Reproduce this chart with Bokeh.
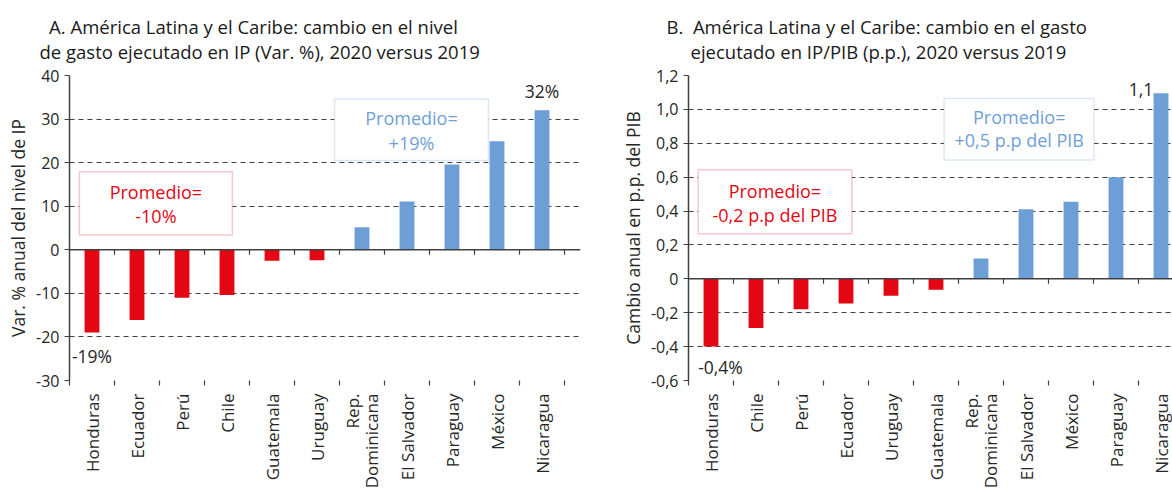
import numpy as np
from bokeh.plotting import figure
from bokeh.layouts import row
from bokeh.models import FixedTicker, Range1d, BoxAnnotation, Label, Span
from bokeh.embed import file_html
from bokeh.resources import INLINE

# ---------------- data ----------------
# Panel A: change in executed public investment spending level (Var. %)
cats_a = ["Honduras", "Ecuador", "Perú", "Chile", "Guatemala", "Uruguay",
          "Rep.\nDominicana", "El Salvador", "Paraguay", "México", "Nicaragua"]
vals_a = [-19.0, -16.1, -11.0, -10.4, -2.5, -2.4, 5.2, 11.1, 19.6, 24.9, 32.0]
yticks_a = [-30, -20, -10, 0, 10, 20, 30, 40]
ytick_labels_a = ["-30", "-20", "-10", "0", "10", "20", "30", "40"]
avg_a = ["Promedio=", "-10%"]
avg_pos_a = ["Promedio=", "+19%"]

# Panel B: change in executed public investment / GDP (p.p.)
cats_b = ["Honduras", "Chile", "Perú", "Ecuador", "Uruguay", "Guatemala",
          "Rep.\nDominicana", "El Salvador", "México", "Paraguay", "Nicaragua"]
vals_b = [-0.40, -0.29, -0.18, -0.145, -0.10, -0.065, 0.12, 0.41, 0.455, 0.60, 1.095]
yticks_b = [-0.6, -0.4, -0.2, 0, 0.2, 0.4, 0.6, 0.8, 1.0, 1.2]
ytick_labels_b = ["-0,6", "-0,4", "-0,2", "0", "0,2", "0,4", "0,6", "0,8", "1,0", "1,2"]
avg_b = ["Promedio=", "-0,2 p.p del PIB"]
avg_pos_b = ["Promedio=", "+0,5 p.p del PIB"]

# ---------------- style ----------------
RED = "#E30613"
BLUE = "#6D9ED5"
RED_BORDER = "#E84A55"
BLUE_BORDER = "#8FB4E0"
BLUE_TEXT = "#6F9FD8"
DARK = "#404040"
TXT = "#262626"
FONT = "Open Sans"
H = 491
TOP = 75
BOTTOM = 111
TICK_PX = 5
CAT_PX = 45.0
NB = "\u00a0"


def make_panel(cats, vals, yticks, ylabels, yr, width, bl, br, n_vis, title, title_off, ylab):
    n = len(cats)
    x = list(range(n))
    colors = [RED if v < 0 else BLUE for v in vals]
    p = figure(width=width, height=H, output_backend="svg", toolbar_location=None,
               x_range=Range1d(-0.5, -0.5 + n_vis), y_range=Range1d(*yr),
               min_border_left=bl, min_border_right=br, min_border_top=TOP,
               min_border_bottom=BOTTOM)
    p.outline_line_color = None
    p.background_fill_color = "white"
    p.border_fill_color = "white"

    # title
    p.title.text = title
    p.title.align = "left"
    p.title.offset = title_off
    p.title.text_font = FONT
    p.title.text_font_size = "18.5px"
    p.title.text_font_style = "normal"
    p.title.text_color = "#1A1A1A"
    p.title.standoff = 23

    # grid
    p.xgrid.visible = False
    p.ygrid.ticker = FixedTicker(ticks=yticks)
    p.ygrid.grid_line_color = DARK
    p.ygrid.grid_line_dash = "5 4"
    p.ygrid.grid_line_width = 1

    # y axis
    ya = p.yaxis[0]
    ya.ticker = FixedTicker(ticks=yticks)
    ya.major_label_overrides = {t: l for t, l in zip(yticks, ylabels)}
    ya.axis_line_color = DARK
    ya.axis_line_width = 1.5
    ya.major_tick_line_color = DARK
    ya.major_tick_line_width = 1.2
    ya.major_tick_out = TICK_PX
    ya.major_tick_in = 0
    ya.minor_tick_line_color = None
    ya.major_label_standoff = 5
    ya.major_label_text_font = FONT
    ya.major_label_text_font_size = "16px"
    ya.major_label_text_color = TXT
    ya.axis_label = ylab
    ya.axis_label_text_font = FONT
    ya.axis_label_text_font_size = "17.5px"
    ya.axis_label_text_font_style = "normal"
    ya.axis_label_text_color = TXT
    ya.axis_label_standoff = 3

    # x axis: category labels at the bottom, boundary ticks
    bounds = [i - 0.5 for i in range(n + 1)]
    xa = p.xaxis[0]
    xa.ticker = FixedTicker(ticks=x, minor_ticks=bounds)
    xa.major_label_overrides = {i: c for i, c in zip(x, cats)}
    xa.major_label_orientation = np.pi / 2
    xa.axis_line_color = None
    xa.major_tick_line_color = None
    xa.major_tick_out = 0
    xa.major_tick_in = 0
    xa.minor_tick_line_color = DARK
    xa.minor_tick_line_width = 1.2
    xa.minor_tick_out = TICK_PX
    xa.minor_tick_in = 0
    xa.major_label_standoff = 8
    xa.major_label_text_font = FONT
    xa.major_label_text_font_size = "17px"
    xa.major_label_text_color = TXT
    xa.major_label_text_line_height = 0.85

    # bars
    p.vbar(x=x, top=vals, bottom=0, width=0.33, color=colors, line_color=None)

    # zero line with category ticks
    frame_h = H - TOP - BOTTOM
    ppu = frame_h / (yr[1] - yr[0])
    p.add_layout(Span(location=0, dimension="width", line_color=DARK, line_width=1.5))
    tick_len = TICK_PX / ppu
    p.segment(x0=bounds[1:], y0=[0] * n, x1=bounds[1:], y1=[-tick_len] * n,
              line_color=DARK, line_width=1.2)
    return p


def box(p, left, right, top, bottom, lines, ys, xc, border, tcolor):
    p.add_layout(BoxAnnotation(left=left, right=right, top=top, bottom=bottom,
                               fill_color="white", fill_alpha=1.0,
                               line_color=border, line_width=1.5))
    for t, yy in zip(lines, ys):
        p.add_layout(Label(x=xc, y=yy, text=t, text_align="center", text_baseline="middle",
                           text_font=FONT, text_font_size="18px", text_color=tcolor))


# ---------------- panel A ----------------
pa = make_panel(cats_a, vals_a, yticks_a, ytick_labels_a, (-30, 40), 590, 69, 10,
                511 / CAT_PX,
                NB * 2 + "A. América Latina y el Caribe: cambio en el nivel\n"
                "de gasto ejecutado en IP (Var. %), 2020 versus 2019",
                -30, "Var. % anual del nivel de IP")
box(pa, -0.28, 3.12, 17.9, 3.4, avg_a, [13.3, 7.8], 1.42, RED_BORDER, RED)
box(pa, 5.39, 8.81, 34.6, 20.5, avg_pos_a, [30.2, 24.6], 7.1, BLUE_BORDER, BLUE_TEXT)
pa.add_layout(Label(x=len(vals_a) - 1, y=max(vals_a) + 4.4, text=f"{max(vals_a):.0f}%",
                    text_align="center", text_baseline="middle", text_font=FONT,
                    text_font_size="17.5px", text_color=TXT))
pa.add_layout(Label(x=0, y=min(vals_a) - 5.3, text=f"{min(vals_a):.0f}%",
                    text_align="center", text_baseline="middle", text_font=FONT,
                    text_font_size="17.5px", text_color=TXT))

# ---------------- panel B ----------------
pb = make_panel(cats_b, vals_b, yticks_b, ytick_labels_b, (-0.6, 1.2), 582, 98, 0,
                484 / CAT_PX,
                "B." + NB + " América Latina y el Caribe: cambio en el gasto\n"
                + NB * 5 + "ejecutado en IP/PIB (p.p.), 2020 versus 2019",
                -22, "Cambio anual en p.p. del PIB")
box(pb, -0.285, 3.13, 0.644, 0.266, avg_b, [0.521, 0.379], 1.42, RED_BORDER, RED)
box(pb, 5.18, 8.51, 1.065, 0.701, avg_pos_b, [0.955, 0.817], 6.85, BLUE_BORDER, BLUE_TEXT)
pb.add_layout(Label(x=len(vals_b) - 1 - 0.17, y=max(vals_b) + 0.023,
                    text=f"{max(vals_b):.1f}".replace(".", ","),
                    text_align="right", text_baseline="middle", text_font=FONT,
                    text_font_size="17.5px", text_color=TXT))
pb.add_layout(Label(x=0.21, y=min(vals_b) - 0.118,
                    text=f"{min(vals_b):.1f}%".replace(".", ","),
                    text_align="center", text_baseline="middle", text_font=FONT,
                    text_font_size="17.5px", text_color=TXT))

layout = row(pa, pb)
open("out.html", "w").write(file_html(layout, INLINE))
